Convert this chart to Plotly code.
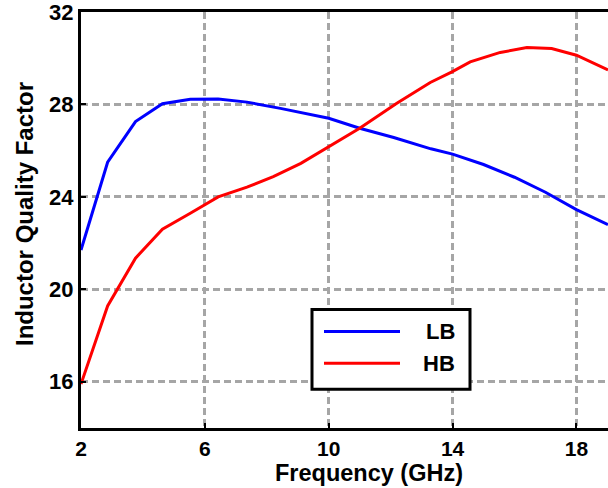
import plotly.graph_objects as go

# Data
lb_freq = [2.0, 2.86, 3.76, 4.63, 5.53, 6.43, 7.36, 8.44, 10.0, 11.0, 12.1, 13.3, 14.0, 15.0, 16.0, 17.0, 18.0, 19.02]
lb_q = [21.7, 25.5, 27.26, 28.03, 28.22, 28.24, 28.1, 27.83, 27.4, 26.97, 26.57, 26.08, 25.85, 25.4, 24.85, 24.2, 23.45, 22.8]

hb_freq = [2.0, 2.86, 3.76, 4.63, 5.53, 6.43, 7.36, 8.21, 9.1, 10.0, 11.0, 12.2, 13.28, 13.98, 14.57, 15.54, 16.4, 17.2, 18.0, 19.02]
hb_q = [15.9, 19.28, 21.35, 22.6, 23.29, 24.0, 24.42, 24.88, 25.45, 26.18, 26.97, 28.05, 28.95, 29.41, 29.84, 30.25, 30.46, 30.42, 30.13, 29.49]

series_names = ["LB", "HB"]
series_colors = ["#0000ff", "#ff0000"]

x_ticks = [2, 6, 10, 14, 18]
y_ticks = [16, 20, 24, 28, 32]

FONT = "Liberation Sans, Arial, sans-serif"

fig = go.Figure()
fig.add_trace(go.Scatter(x=lb_freq, y=lb_q, mode="lines", name=series_names[0],
                         line=dict(color=series_colors[0], width=3), showlegend=False))
fig.add_trace(go.Scatter(x=hb_freq, y=hb_q, mode="lines", name=series_names[1],
                         line=dict(color=series_colors[1], width=3), showlegend=False))

fig.update_layout(
    width=608, height=488,
    margin=dict(l=81, r=0, t=10, b=60),
    plot_bgcolor="white", paper_bgcolor="white",
    font=dict(family=FONT, color="black"),
)
grid = dict(showgrid=True, gridcolor="#a6a6a6", gridwidth=2.5, griddash="7px,4px")
fig.update_xaxes(
    range=[2, 19.02], tickvals=x_ticks, ticktext=[f"<b>{v}</b>" for v in x_ticks],
    tickfont=dict(size=21, family=FONT, color="black"),
    ticklabeloverflow="allow",
    showline=True, linecolor="black", linewidth=3, mirror=True,
    ticks="inside", ticklen=5, tickwidth=2, tickcolor="black",
    zeroline=False, **grid,
)
fig.update_yaxes(
    range=[14, 32], tickvals=y_ticks, ticktext=[f"<b>{v}</b>" for v in y_ticks],
    tickfont=dict(size=22, family=FONT, color="black"),
    ticklabeloverflow="allow",
    showline=True, linecolor="black", linewidth=3, mirror=False,
    ticks="inside", ticklen=5, tickwidth=2, tickcolor="black",
    zeroline=False, **grid,
)

W, H = 608 - 81, 488 - 10 - 60
def px(xp):
    return (xp - 81) / W
def py(yp):
    return 1 - (yp - 10) / H

# Axis titles
fig.add_annotation(text="<b>Frequency (GHz)</b>", xref="paper", yref="paper",
                   x=px(369), y=py(473), xanchor="center", yanchor="middle",
                   showarrow=False, font=dict(size=23.5, family=FONT, color="black"))
fig.add_annotation(text="<b>Inductor Quality Factor</b>", xref="paper", yref="paper",
                   x=px(24), y=py(213), xanchor="center", yanchor="middle", textangle=-90,
                   showarrow=False, font=dict(size=24, family=FONT, color="black"))

# Legend box (manual)
fig.add_shape(type="rect", xref="paper", yref="paper",
              x0=px(312), x1=px(470), y0=py(309), y1=py(389),
              line=dict(color="black", width=3), fillcolor="white", layer="above")
legend_rows = [331, 363]
for name, color, yp in zip(series_names, series_colors, legend_rows):
    fig.add_shape(type="line", xref="paper", yref="paper",
                  x0=px(324), x1=px(400), y0=py(yp), y1=py(yp),
                  line=dict(color=color, width=3), layer="above")
    fig.add_annotation(text=f"<b>{name}</b>", xref="paper", yref="paper",
                       x=px(457), y=py(yp), xanchor="right", yanchor="middle",
                       showarrow=False, font=dict(size=22, family=FONT, color="black"))

fig.write_html("out.html")
